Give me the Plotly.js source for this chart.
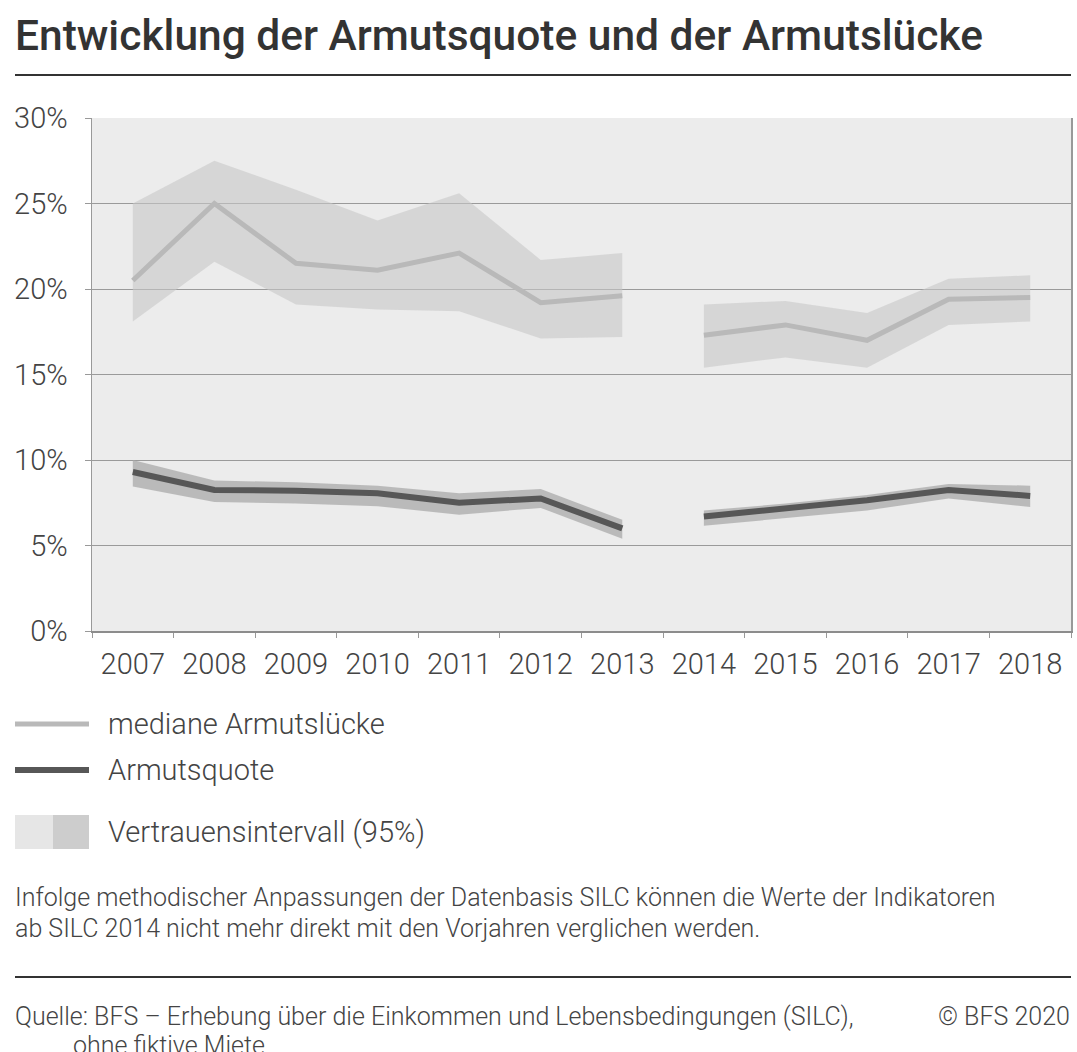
<!DOCTYPE html>
<html>
<head>
<meta charset="utf-8">
<script src="https://cdn.plot.ly/plotly-3.0.1.min.js"></script>
<style>
  html, body { margin: 0; padding: 0; background: #ffffff; }
  #chart { width: 1077px; height: 1052px; }
</style>
</head>
<body>
<div id="chart"></div>
<script>
// ---- Data ----
const years = ['2007','2008','2009','2010','2011','2012','2013','2014','2015','2016','2017','2018'];
const medianGap     = [20.5, 25.0, 21.5, 21.1, 22.1, 19.2, 19.6, 17.3, 17.9, 17.0, 19.4, 19.5];
const medianGapLow  = [18.1, 21.6, 19.1, 18.8, 18.7, 17.1, 17.2, 15.4, 16.0, 15.4, 17.9, 18.1];
const medianGapHigh = [25.0, 27.5, 25.8, 24.0, 25.6, 21.7, 22.1, 19.1, 19.3, 18.6, 20.6, 20.8];
const povertyRate     = [9.3, 8.25, 8.2, 8.05, 7.5, 7.75, 6.0, 6.7, 7.15, 7.65, 8.25, 7.9];
const povertyRateLow  = [8.45, 7.55, 7.45, 7.3, 6.8, 7.2, 5.4, 6.15, 6.6, 7.05, 7.75, 7.25];
const povertyRateHigh = [10.0, 8.8, 8.7, 8.5, 8.05, 8.3, 6.5, 7.05, 7.45, 7.95, 8.6, 8.5];
const yTicks = [0, 5, 10, 15, 20, 25, 30];
// series break (methodological change from SILC 2014)
const segments = [[0, 7], [7, 12]];

// ---- Geometry helpers (pixel -> paper) ----
const W = 1077, H = 1052;
const PL = 92, PR = 1071, PT = 118, PB = 631;
const px = x => (x - PL) / (PR - PL);
const py = y => (PB - y) / (PB - PT);

const FONT = 'Roboto, "Open Sans", "DejaVu Sans", sans-serif';

const traces = [];
function band(low, high, color) {
  segments.forEach(([a, b]) => {
    traces.push({x: years.slice(a, b), y: low.slice(a, b), type: 'scatter', mode: 'lines',
      line: {width: 0, color: color}, hoverinfo: 'skip', showlegend: false});
    traces.push({x: years.slice(a, b), y: high.slice(a, b), type: 'scatter', mode: 'lines',
      line: {width: 0, color: color}, fill: 'tonexty', fillcolor: color, hoverinfo: 'skip', showlegend: false});
  });
}
function line(vals, color, width) {
  segments.forEach(([a, b]) => {
    traces.push({x: years.slice(a, b), y: vals.slice(a, b), type: 'scatter', mode: 'lines',
      line: {width: width, color: color}, showlegend: false});
  });
}
band(medianGapLow, medianGapHigh, 'rgba(200,200,200,0.6)');
band(povertyRateLow, povertyRateHigh, 'rgba(170,170,170,0.75)');
line(medianGap, '#b9b9b9', 5);
line(povertyRate, '#575757', 6);

const shapes = [
  // title rule
  {type: 'line', xref: 'paper', yref: 'paper', x0: px(15), x1: px(1071), y0: py(75), y1: py(75),
   line: {color: '#333333', width: 2}},
  // legend samples
  {type: 'line', xref: 'paper', yref: 'paper', x0: px(15), x1: px(89), y0: py(724), y1: py(724),
   line: {color: '#b9b9b9', width: 5}},
  {type: 'line', xref: 'paper', yref: 'paper', x0: px(15), x1: px(89), y0: py(770), y1: py(770),
   line: {color: '#575757', width: 6}},
  {type: 'rect', xref: 'paper', yref: 'paper', x0: px(15), x1: px(53), y0: py(815), y1: py(849),
   fillcolor: '#e6e6e6', line: {width: 0}},
  {type: 'rect', xref: 'paper', yref: 'paper', x0: px(53), x1: px(89), y0: py(815), y1: py(849),
   fillcolor: '#cdcdcd', line: {width: 0}},
  // bottom rule
  {type: 'line', xref: 'paper', yref: 'paper', x0: px(15), x1: px(1071), y0: py(977), y1: py(977),
   line: {color: '#333333', width: 2}}
];

const ann = (text, x, y, size, opts = {}) => Object.assign({
  text: text, xref: 'paper', yref: 'paper', x: px(x), y: py(y),
  xanchor: 'left', yanchor: 'middle', showarrow: false, align: 'left',
  font: {family: FONT, size: size, color: '#444444', weight: 300}
}, opts);

const annotations = [
  ann('Entwicklung der Armutsquote und der Armutslücke', 13, 36, 42.5,
      {font: {family: FONT, size: 42.5, color: '#333333', weight: 500}}),
  ann('mediane Armutslücke', 106, 724, 29),
  ann('Armutsquote', 106, 770, 29),
  ann('Vertrauensintervall (95%)', 106, 832, 29),
  ann('Infolge methodischer Anpassungen der Datenbasis SILC können die Werte der Indikatoren', 13, 897, 25),
  ann('ab SILC 2014 nicht mehr direkt mit den Vorjahren verglichen werden.', 13, 928, 25),
  ann('Quelle: BFS – Erhebung über die Einkommen und Lebensbedingungen (SILC),', 13, 1016, 25),
  ann('ohne fiktive Miete', 71, 1045, 25),
  ann('© BFS 2020', 1072, 1016, 25, {xanchor: 'right'})
];

const layout = {
  width: W, height: H,
  margin: {l: PL, r: W - PR, t: PT, b: H - PB, pad: 0},
  paper_bgcolor: '#ffffff',
  plot_bgcolor: '#ececec',
  showlegend: false,
  xaxis: {
    type: 'category', categoryorder: 'array', categoryarray: years,
    range: [-0.5, 11.5], tickson: 'boundaries',
    ticks: 'outside', ticklen: 5, tickcolor: '#999999', tickwidth: 1,
    showgrid: false, showline: true, linecolor: '#8c8c8c', linewidth: 1.5,
    tickfont: {family: FONT, size: 29, color: '#444444', weight: 300},
    ticklabelstandoff: 7,
    fixedrange: true
  },
  yaxis: {
    range: [0, 30], tickvals: yTicks, ticktext: yTicks.map(v => v + '%'),
    ticks: 'outside', ticklen: 6, tickcolor: '#999999', tickwidth: 1,
    showgrid: true, gridcolor: '#9a9a9a', gridwidth: 1,
    showline: true, mirror: true, linecolor: '#999999', linewidth: 1.5,
    zeroline: false,
    tickfont: {family: FONT, size: 29, color: '#444444', weight: 300},
    ticklabelstandoff: 11,
    fixedrange: true
  },
  shapes: shapes,
  annotations: annotations
};

Plotly.newPlot('chart', traces, layout, {displayModeBar: false, staticPlot: true});
</script>
</body>
</html>
